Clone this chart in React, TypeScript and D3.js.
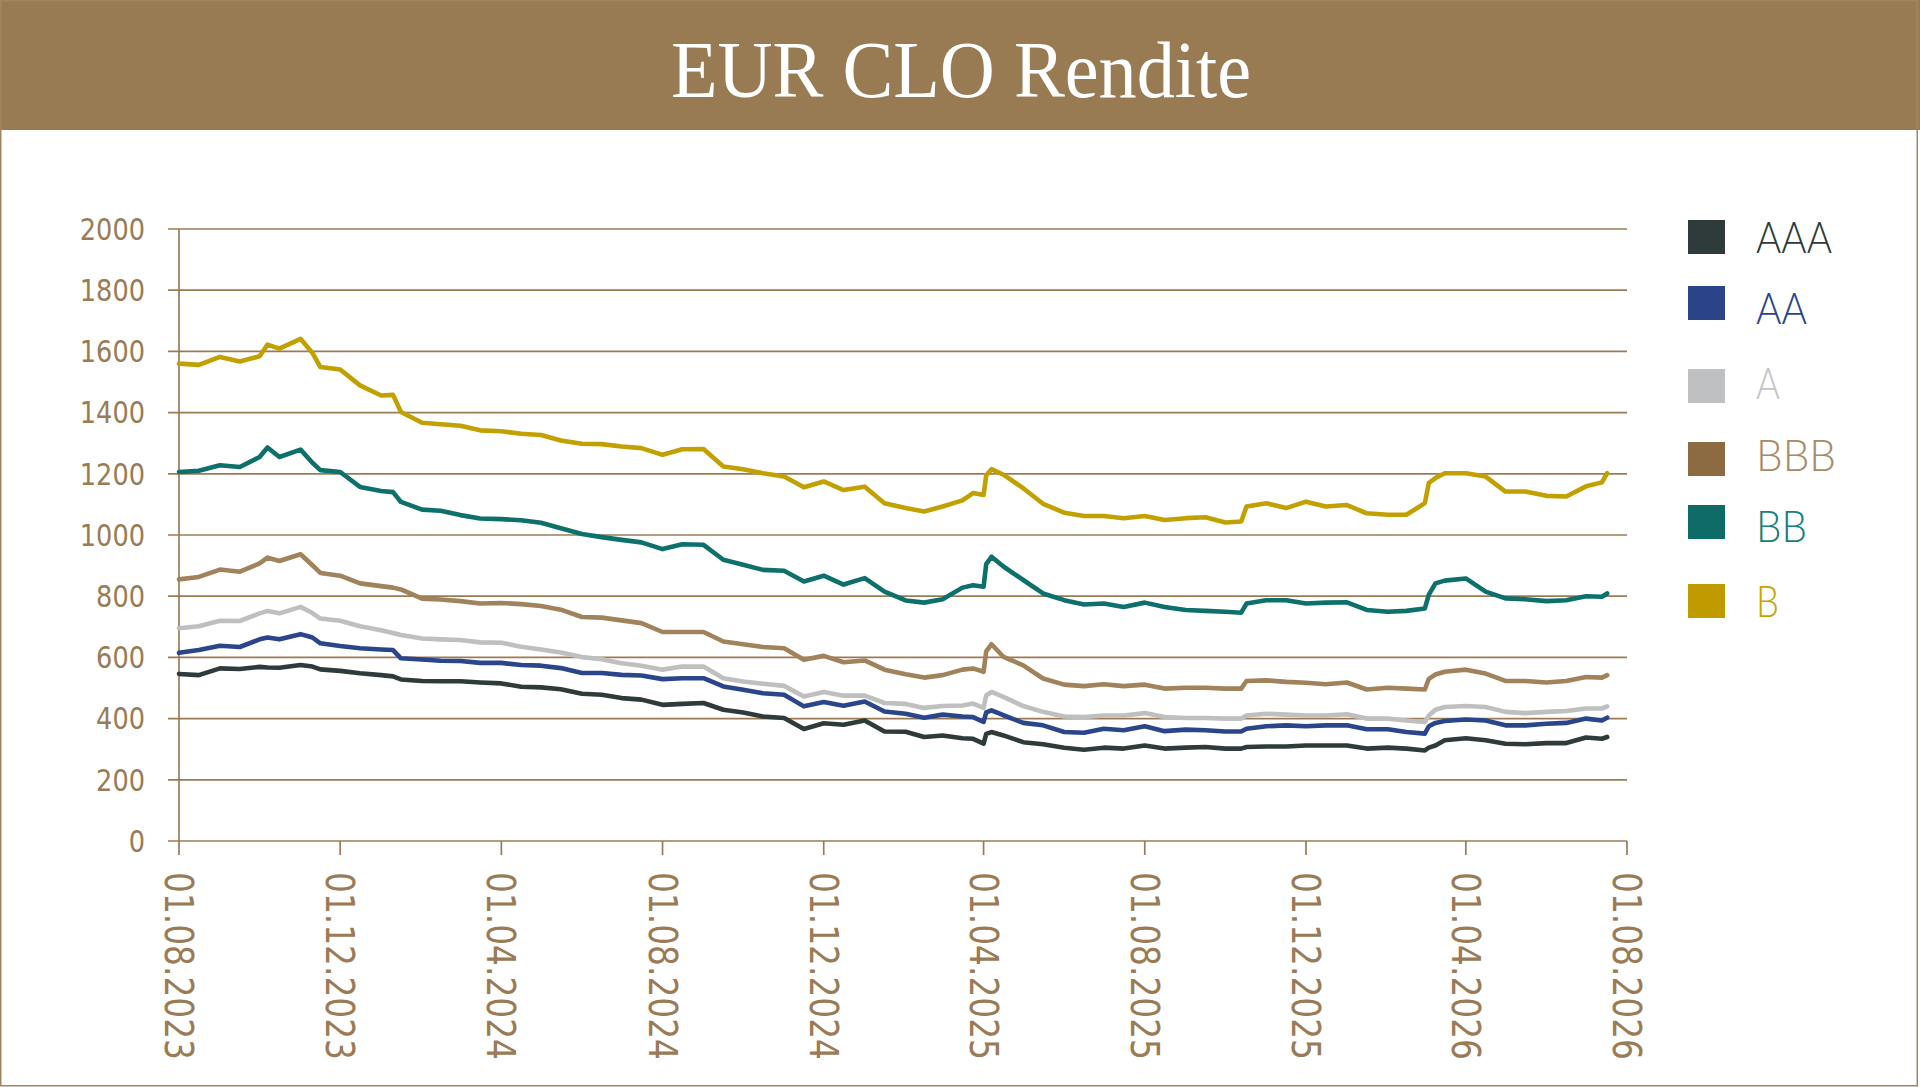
import React from "react";
import * as d3 from "d3";

const dates = [
  "2023-08-01","2023-08-16","2023-09-01","2023-09-16","2023-10-01","2023-10-07","2023-10-16","2023-11-01","2023-11-10","2023-11-16",
  "2023-12-01","2023-12-16","2024-01-01","2024-01-10","2024-01-16","2024-02-01","2024-02-15","2024-03-01","2024-03-16","2024-04-01",
  "2024-04-16","2024-05-01","2024-05-16","2024-06-01","2024-06-16","2024-07-01","2024-07-16","2024-08-01","2024-08-16","2024-09-01",
  "2024-09-16","2024-10-01","2024-10-16","2024-11-01","2024-11-16","2024-12-01","2024-12-16","2025-01-01","2025-01-16","2025-02-01",
  "2025-02-15","2025-03-01","2025-03-16","2025-03-24","2025-04-01","2025-04-03","2025-04-07","2025-04-16","2025-05-01","2025-05-16",
  "2025-06-01","2025-06-16","2025-07-01","2025-07-16","2025-08-01","2025-08-16","2025-09-01","2025-09-16","2025-10-01","2025-10-13",
  "2025-10-17","2025-11-01","2025-11-16","2025-12-01","2025-12-16","2026-01-01","2026-01-16","2026-02-01","2026-02-15","2026-03-01",
  "2026-03-04","2026-03-09","2026-03-16","2026-04-01","2026-04-16","2026-05-01","2026-05-16","2026-06-01","2026-06-16","2026-07-01",
  "2026-07-13","2026-07-17"
];

const aaa = [
  546,542,564,562,569,567,566,575,570,561, 556,548,542,538,528,523,522,522,518,515,
  504,502,496,481,478,467,462,445,448,451, 429,420,407,402,366,385,380,394,358,357,
  340,345,336,334,318,350,356,345,323,316, 305,298,305,302,312,302,305,307,302,302,
  307,309,309,312,312,312,302,305,302,296, 305,312,329,336,329,318,316,320,320,338,
  334,340
];
const aa = [
  615,624,638,634,659,665,659,676,665,646, 637,630,626,624,597,593,589,588,582,582,
  575,573,565,549,549,543,541,529,532,532, 505,494,483,478,440,454,442,456,423,416,
  403,413,407,405,389,420,427,411,386,378, 356,354,367,362,375,359,364,362,358,358,
  367,375,378,375,378,378,365,365,356,351, 375,386,392,397,394,378,378,383,386,400,
  394,403
];
const a = [
  695,702,720,719,744,752,744,765,745,727, 720,702,689,680,673,662,659,657,649,648,
  635,626,616,601,594,581,573,560,570,570, 532,521,514,507,472,487,475,475,451,448,
  435,441,443,449,435,476,487,471,441,422, 407,405,410,410,418,405,402,402,400,400,
  410,416,413,410,410,414,400,400,394,389, 410,429,438,441,438,422,418,422,425,433,
  433,440
];
const bbb = [
  855,863,887,880,907,926,915,937,901,876, 867,842,833,828,822,792,789,784,776,778,
  774,768,756,732,730,721,712,683,683,683, 652,643,634,630,592,605,584,590,560,545,
  534,542,560,564,553,620,643,602,574,531, 511,506,512,506,511,498,501,501,498,498,
  523,525,520,517,512,518,495,501,498,495, 530,544,553,560,547,523,523,518,523,536,
  534,542
];
const bb = [
  1206,1210,1228,1222,1255,1286,1255,1279,1236,1212, 1206,1157,1144,1140,1108,1083,1079,1065,1054,1052,
  1048,1040,1022,1003,993,984,976,954,970,968, 919,903,886,883,848,867,838,859,815,786,
  779,790,828,836,831,905,929,897,853,809, 787,773,776,765,779,765,755,752,749,746,
  776,787,787,776,779,780,755,749,752,760, 805,842,851,858,815,793,790,784,787,800,
  798,809
];
const b = [
  1560,1556,1582,1567,1584,1622,1609,1641,1595,1549, 1541,1489,1456,1458,1402,1367,1362,1357,1342,1339,
  1331,1327,1309,1298,1297,1289,1284,1262,1280,1281, 1224,1215,1202,1191,1156,1175,1147,1158,1104,1088,
  1077,1093,1113,1137,1131,1195,1215,1197,1153,1102, 1073,1062,1062,1055,1062,1049,1055,1058,1041,1044,
  1093,1104,1088,1109,1093,1098,1071,1066,1066,1104, 1170,1186,1202,1202,1191,1142,1142,1128,1126,1159,
  1172,1202
];

const seriesNames = ["AAA", "AA", "A", "BBB", "BB", "B"];
const seriesValues = [aaa, aa, a, bbb, bb, b];
const lineColors = ["#2E3B3A", "#2B458B", "#BFBFBF", "#A0825B", "#0E706A", "#C2A000"];
const swatchColors = ["#2F3A3A", "#2B4489", "#BFC0C1", "#8C6B42", "#0F6B66", "#BF9B00"];
const legendTextColors = ["#2E3B3A", "#2B458B", "#C4C4C4", "#A88B66", "#18807A", "#C9A400"];

const xTickLabels = [
  "01.08.2023","01.12.2023","01.04.2024","01.08.2024","01.12.2024",
  "01.04.2025","01.08.2025","01.12.2025","01.04.2026","01.08.2026"
];
const yTicks = [0, 200, 400, 600, 800, 1000, 1200, 1400, 1600, 1800, 2000];

const title = "EUR CLO Rendite";

const W = 1920;
const H = 1087;
const BROWN = "#9A7B55";

export default function App() {
  const parse = d3.timeParse("%Y-%m-%d");
  const parseTick = d3.timeParse("%d.%m.%Y");
  const xDates = dates.map((s) => parse(s) as Date);
  const tickDates = xTickLabels.map((s) => parseTick(s) as Date);

  const x = d3
    .scaleTime()
    .domain([tickDates[0], tickDates[tickDates.length - 1]])
    .range([179, 1627]);
  const y = d3.scaleLinear().domain([0, 2000]).range([841, 229]);

  const line = d3
    .line<number>()
    .x((_, i) => x(xDates[i]))
    .y((v) => y(v));

  const swatchTops = [220, 286, 369, 442, 505, 584];
  const textBaselines = [253, 324, 399, 471, 542, 617];
  const legendWidths = [76, 51, 24, 80, 51, 23];

  return (
    <svg
      width={W}
      height={H}
      style={{ position: "absolute", left: 0, top: 0, display: "block", background: "#fff" }}
    >
      <rect x={0} y={0} width={W} height={H} fill="#ffffff" />
      <rect x={0} y={0} width={W} height={130} fill="#987B53" />
      <rect x={0.75} y={0.75} width={1916.5} height={1085} fill="none" stroke="#A08660" strokeWidth={1.5} />
      <text
        x={961}
        y={97}
        textAnchor="middle"
        fill="#ffffff"
        fontFamily="'Liberation Serif', 'DejaVu Serif', serif"
        fontSize={80}
        textLength={580}
        lengthAdjust="spacingAndGlyphs"
      >
        {title}
      </text>

      {yTicks.map((t) => (
        <g key={t}>
          <line x1={168} x2={1627} y1={y(t)} y2={y(t)} stroke={BROWN} strokeWidth={1.7} />
          <text
            x={145}
            y={y(t)}
            dy="0.36em"
            textAnchor="end"
            fill={BROWN}
            fontFamily="'DejaVu Sans Condensed', 'DejaVu Sans', sans-serif"
            fontSize={30}
            textLength={String(t).length * 16.3}
            lengthAdjust="spacingAndGlyphs"
          >
            {t}
          </text>
        </g>
      ))}
      <line x1={179} x2={179} y1={229} y2={841} stroke={BROWN} strokeWidth={1.7} />

      {tickDates.map((d, i) => (
        <g key={xTickLabels[i]}>
          <line x1={x(d)} x2={x(d)} y1={841} y2={855} stroke={BROWN} strokeWidth={1.7} />
          <text
            transform={`translate(${x(d)},872) rotate(90)`}
            dy="0.36em"
            textAnchor="start"
            fill={BROWN}
            fontFamily="'DejaVu Sans Condensed', 'DejaVu Sans', sans-serif"
            fontSize={39}
            textLength={188}
            lengthAdjust="spacingAndGlyphs"
          >
            {xTickLabels[i]}
          </text>
        </g>
      ))}

      {seriesValues.map((vals, i) => (
        <path
          key={seriesNames[i]}
          d={line(vals) || ""}
          fill="none"
          stroke={lineColors[i]}
          strokeWidth={4.6}
          strokeLinejoin="round"
          strokeLinecap="round"
        />
      ))}

      {seriesNames.map((n, i) => (
        <g key={n}>
          <rect x={1688} y={swatchTops[i]} width={37} height={34} fill={swatchColors[i]} />
          <text
            x={1756}
            y={textBaselines[i]}
            fill={legendTextColors[i]}
            fontFamily="Lato, 'Open Sans', sans-serif"
            fontWeight={300}
            fontSize={44}
            textLength={legendWidths[i]}
            lengthAdjust="spacingAndGlyphs"
          >
            {n}
          </text>
        </g>
      ))}
    </svg>
  );
}
